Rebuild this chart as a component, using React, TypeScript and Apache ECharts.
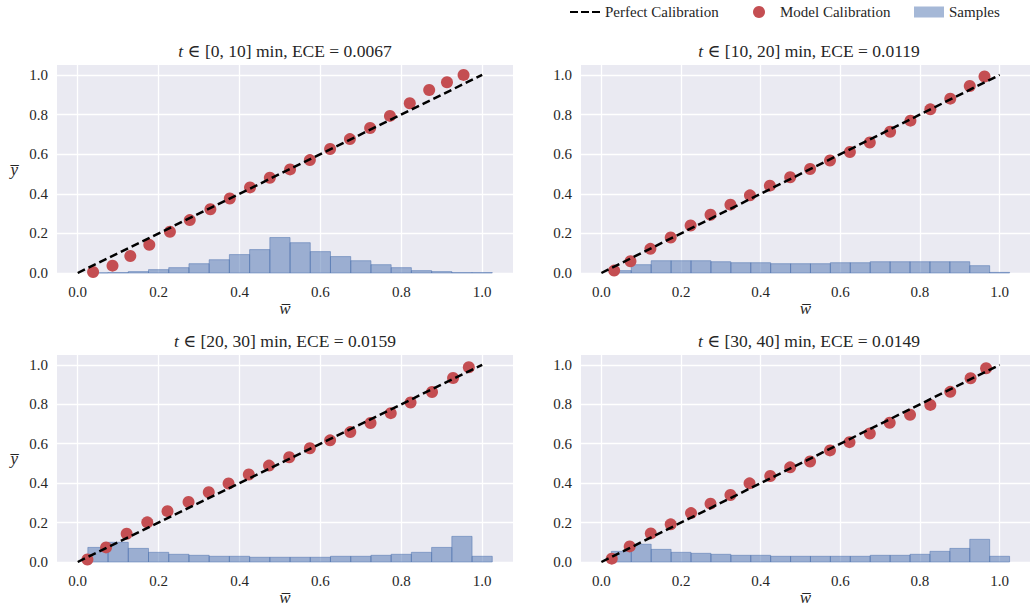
import React, { useEffect, useRef } from "react";
import * as echarts from "echarts";

// ---- data ----
const PANEL_RANGES = ["[0, 10]", "[10, 20]", "[20, 30]", "[30, 40]"];
const PANEL_ECE = ["0.0067", "0.0119", "0.0159", "0.0149"];
const LEGEND_NAMES = ["Perfect Calibration", "Model Calibration", "Samples"];
const TICKS = [0, 0.2, 0.4, 0.6, 0.8, 1.0];
const BIN_LEFT = [0.025, 0.075, 0.125, 0.175, 0.225, 0.275, 0.325, 0.375, 0.425, 0.475,
  0.525, 0.575, 0.625, 0.675, 0.725, 0.775, 0.825, 0.875, 0.925, 0.975];
const BIN_WIDTH = 0.05;
const PERFECT_X = [0, 1];
const PERFECT_Y = [0, 1];

const P1_X = [0.038, 0.086, 0.13, 0.177, 0.228, 0.277, 0.328, 0.376, 0.426, 0.475,
  0.525, 0.574, 0.624, 0.673, 0.723, 0.772, 0.821, 0.869, 0.913, 0.954];
const P1_Y = [0.005, 0.037, 0.086, 0.142, 0.208, 0.267, 0.322, 0.376, 0.432, 0.481,
  0.523, 0.57, 0.626, 0.676, 0.732, 0.793, 0.857, 0.924, 0.963, 1.0];
const P1_HIST = [0.001, 0.002, 0.007, 0.017, 0.027, 0.047, 0.067, 0.093, 0.118, 0.179,
  0.153, 0.108, 0.083, 0.062, 0.042, 0.027, 0.012, 0.007, 0.002, 0.002];

const P2_X = [0.032, 0.073, 0.123, 0.174, 0.224, 0.274, 0.324, 0.373, 0.423, 0.474,
  0.524, 0.574, 0.624, 0.674, 0.725, 0.776, 0.826, 0.876, 0.925, 0.962];
const P2_Y = [0.012, 0.059, 0.122, 0.179, 0.24, 0.294, 0.345, 0.392, 0.441, 0.483,
  0.525, 0.568, 0.611, 0.659, 0.713, 0.769, 0.826, 0.88, 0.944, 0.992];
const P2_HIST = [0.012, 0.042, 0.062, 0.062, 0.062, 0.057, 0.052, 0.052, 0.047, 0.047,
  0.047, 0.052, 0.052, 0.057, 0.057, 0.057, 0.057, 0.057, 0.037, 0.003];

const P3_X = [0.024, 0.07, 0.121, 0.172, 0.222, 0.274, 0.324, 0.373, 0.423, 0.473,
  0.523, 0.574, 0.624, 0.674, 0.724, 0.774, 0.823, 0.876, 0.928, 0.967];
const P3_Y = [0.013, 0.074, 0.143, 0.201, 0.258, 0.304, 0.354, 0.398, 0.444, 0.489,
  0.531, 0.577, 0.617, 0.659, 0.705, 0.755, 0.809, 0.862, 0.933, 0.988];
const P3_HIST = [0.074, 0.1, 0.069, 0.049, 0.039, 0.034, 0.029, 0.029, 0.024, 0.024,
  0.024, 0.024, 0.029, 0.029, 0.034, 0.039, 0.049, 0.074, 0.13, 0.029];

const P4_X = [0.026, 0.071, 0.124, 0.174, 0.225, 0.274, 0.324, 0.372, 0.424, 0.474,
  0.524, 0.574, 0.623, 0.674, 0.724, 0.775, 0.826, 0.876, 0.927, 0.966];
const P4_Y = [0.017, 0.079, 0.145, 0.191, 0.248, 0.296, 0.34, 0.399, 0.436, 0.48,
  0.51, 0.566, 0.608, 0.652, 0.706, 0.747, 0.797, 0.863, 0.932, 0.983];
const P4_HIST = [0.054, 0.09, 0.064, 0.049, 0.044, 0.039, 0.034, 0.034, 0.029, 0.029,
  0.029, 0.029, 0.029, 0.034, 0.034, 0.039, 0.054, 0.069, 0.115, 0.029];

const PANELS = [
  { x: P1_X, y: P1_Y, hist: P1_HIST },
  { x: P2_X, y: P2_Y, hist: P2_HIST },
  { x: P3_X, y: P3_Y, hist: P3_HIST },
  { x: P4_X, y: P4_Y, hist: P4_HIST },
];

// ---- style ----
const FONT = "'Liberation Serif', 'DejaVu Serif', serif";
const TEXT_COLOR = "#262626";
const BG = "#EAEAF2";
const RED = "#C44E52";
const BLUE_A = "rgba(76,114,176,0.5)";
const GRIDS = [
  { left: 57, top: 65 },
  { left: 581, top: 65 },
  { left: 57, top: 355 },
  { left: 581, top: 355 },
];
const GW = 456;
const GH = 208;

export default function App() {
  const ref = useRef<HTMLDivElement>(null);
  useEffect(() => {
    if (!ref.current) return;
    const chart = echarts.init(ref.current, undefined, { renderer: "svg" });

    const grid = GRIDS.map((g) => ({
      left: g.left, top: g.top, width: GW, height: GH,
      show: true, backgroundColor: BG, borderWidth: 0,
    }));

    const xAxis = GRIDS.map((_, i) => ({
      type: "value", gridIndex: i, min: -0.05125, max: 1.07625,
      axisLine: { show: false }, axisTick: { show: false, customValues: TICKS },
      axisLabel: {
        customValues: TICKS, margin: 11, fontFamily: FONT, fontSize: 15, color: TEXT_COLOR,
        formatter: (v: number) => v.toFixed(1),
      },
      splitLine: { show: true, lineStyle: { color: "#ffffff", width: 1.3 } },
      name: "w\u0305", nameLocation: "middle", nameGap: 27,
      nameTextStyle: { fontFamily: FONT, fontSize: 17, fontStyle: "italic", color: TEXT_COLOR },
    }));

    const yAxis = GRIDS.map((_, i) => ({
      type: "value", gridIndex: i, min: 0, max: 1.05,
      axisLine: { show: false }, axisTick: { show: false, customValues: TICKS },
      axisLabel: {
        customValues: TICKS, margin: 9, fontFamily: FONT, fontSize: 15, color: TEXT_COLOR,
        formatter: (v: number) => v.toFixed(1),
      },
      splitLine: { show: true, lineStyle: { color: "#ffffff", width: 1.3 } },
      name: i % 2 === 0 ? "y\u0305" : "", nameLocation: "middle", nameGap: 39, nameRotate: 0,
      nameTextStyle: { fontFamily: FONT, fontSize: 17, fontStyle: "italic", color: TEXT_COLOR },
    }));

    const series: any[] = [];
    PANELS.forEach((p, i) => {
      series.push({
        type: "custom", name: LEGEND_NAMES[2], xAxisIndex: i, yAxisIndex: i, z: 1,
        itemStyle: { color: BLUE_A },
        encode: { x: [0, 1], y: 2 },
        data: BIN_LEFT.map((b, k) => [b, b + BIN_WIDTH, p.hist[k]]),
        renderItem: (params: any, api: any) => {
          const p0 = api.coord([api.value(0), api.value(2)]);
          const p1 = api.coord([api.value(1), 0]);
          return {
            type: "rect",
            shape: { x: p0[0], y: p0[1], width: p1[0] - p0[0], height: p1[1] - p0[1] },
            style: { fill: BLUE_A, stroke: BLUE_A, lineWidth: 1 },
          };
        },
      });
      series.push({
        type: "scatter", name: LEGEND_NAMES[1], xAxisIndex: i, yAxisIndex: i, z: 2,
        symbolSize: 12, itemStyle: { color: RED, opacity: 1 },
        data: p.x.map((x, k) => [x, p.y[k]]),
      });
      series.push({
        type: "line", name: LEGEND_NAMES[0], xAxisIndex: i, yAxisIndex: i, z: 3,
        symbol: "none", clip: false,
        lineStyle: { color: "#000000", width: 2.5, type: [8, 4] },
        itemStyle: { color: "#000000" },
        data: PERFECT_X.map((x, k) => [x, PERFECT_Y[k]]),
      });
    });

    const titles = GRIDS.map((g, i) => ({
      type: "text",
      x: g.left + GW / 2,
      y: g.top - 14,
      style: {
        text: `{i|t} \u2208 ${PANEL_RANGES[i]} min, ECE = ${PANEL_ECE[i]}`,
        font: `17.5px ${FONT}`,
        fill: TEXT_COLOR,
        align: "center",
        verticalAlign: "middle",
        rich: { i: { fontStyle: "italic", fontSize: 17.5, fontFamily: FONT, fill: TEXT_COLOR } },
      },
    }));

    const legendY = 12;
    const legendText = (x: number, t: string) => ({
      type: "text", x, y: legendY,
      style: { text: t, font: `15px ${FONT}`, fill: TEXT_COLOR, align: "left", verticalAlign: "middle" },
    });
    const legend = [
      {
        type: "line", shape: { x1: 570, y1: legendY, x2: 600, y2: legendY },
        style: { stroke: "#000000", lineWidth: 2.2, lineDash: [8, 3] },
      },
      legendText(605, LEGEND_NAMES[0]),
      { type: "circle", shape: { cx: 759, cy: legendY, r: 6 }, style: { fill: RED } },
      legendText(780, LEGEND_NAMES[1]),
      { type: "rect", shape: { x: 914, y: legendY - 5.5, width: 30, height: 11 }, style: { fill: BLUE_A } },
      legendText(949, LEGEND_NAMES[2]),
    ];

    chart.setOption({
      animation: false,
      backgroundColor: "#ffffff",
      grid, xAxis, yAxis, series,
      graphic: [...titles, ...legend],
    });
    return () => chart.dispose();
  }, []);
  return (
    <div
      ref={ref}
      style={{ position: "absolute", left: 0, top: 0, width: 1030, height: 607 }}
    />
  );
}
